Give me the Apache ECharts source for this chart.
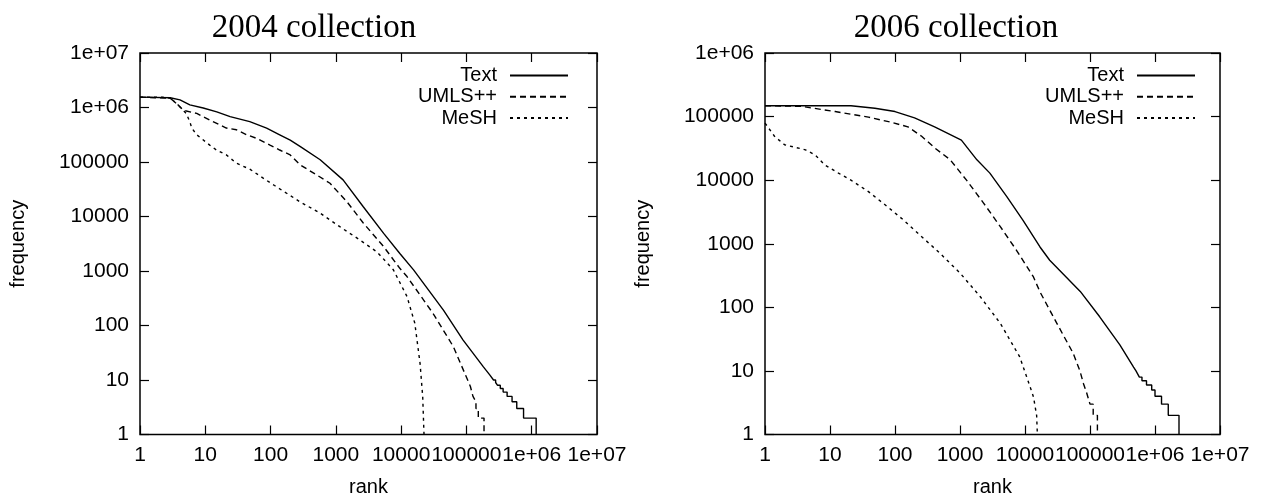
<!DOCTYPE html>
<html>
<head>
<meta charset="utf-8">
<script src="https://cdn.jsdelivr.net/npm/echarts@6/dist/echarts.min.js"></script>
<style>
  html, body { margin: 0; padding: 0; background: #fff; }
  #chart { width: 1266px; height: 495px; }
</style>
</head>
<body>
<div id="chart"></div>
<script>
// Rank/frequency distributions, [rank, frequency] pairs on log-log axes.
const panelTitles = ['2004 collection', '2006 collection'];
const seriesNames = ['Text', 'UMLS++', 'MeSH'];
const decadeLabels = ['1', '10', '100', '1000', '10000', '100000', '1e+06', '1e+07'];

const text2004 = [
  [1, 1550000], [2.9, 1510000], [4.1, 1380000], [5.8, 1120000], [9.3, 980000],
  [15, 830000], [24, 680000], [48, 550000], [87, 420000], [138, 316000],
  [200, 251000], [290, 190000], [575, 110000], [1290, 47000], [2630, 15100],
  [5400, 4900], [9550, 2090], [15500, 1050], [44700, 190], [89000, 54],
  [182000, 17.4], [229000, 12.3], [260000, 10], [280000, 10], [280000, 9],
  [300000, 9], [300000, 8], [330000, 8], [330000, 7], [365000, 7], [365000, 6],
  [420000, 6], [420000, 5], [500000, 5], [500000, 4], [590000, 4], [590000, 3],
  [750000, 3], [750000, 2], [1170000, 2], [1170000, 1]
];
const umls2004 = [
  [1, 1550000], [2.9, 1480000], [3.6, 1200000], [4.6, 890000], [7.4, 780000],
  [11.7, 590000], [21, 420000], [30, 390000], [43, 316000], [62, 270000],
  [98, 204000], [138, 166000], [200, 135000], [282, 89000], [513, 57500],
  [813, 40700], [1480, 18600], [2630, 7600], [5370, 2820], [9550, 1120],
  [12300, 790], [30900, 166], [63000, 41], [115000, 7.6], [126000, 5],
  [140000, 4], [140000, 3], [152000, 3], [152000, 2], [186000, 2], [186000, 1]
];
const mesh2004 = [
  [1, 1550000], [2.2, 1550000], [2.9, 1480000], [3.8, 1120000], [5.1, 780000],
  [5.8, 550000], [6.2, 420000], [7.4, 316000], [11.7, 204000], [14.8, 166000],
  [21, 135000], [30, 95000], [48, 74000], [78, 50000], [115, 37000],
  [282, 18600], [575, 11500], [1150, 6500], [2340, 3700], [4270, 2240],
  [7600, 1050], [12300, 340], [16200, 110], [19500, 20], [21400, 4.9], [22400, 1]
];

const text2006 = [
  [1, 148000], [21, 148000], [49, 135000], [100, 120000], [200, 95500],
  [407, 69000], [1050, 42700], [1820, 20900], [2880, 12900], [5250, 5500],
  [9330, 2340], [17000, 890], [24000, 550], [70800, 178], [141000, 71],
  [288000, 25.7], [468000, 11.5], [510000, 10], [540000, 10], [540000, 9],
  [575000, 9], [575000, 8], [630000, 8], [630000, 7], [740000, 7], [740000, 6],
  [890000, 6], [890000, 5], [1000000, 5], [1000000, 4], [1260000, 4],
  [1260000, 3], [1600000, 3], [1600000, 2], [2340000, 2], [2340000, 1]
];
const umls2006 = [
  [1, 148000], [3.6, 145000], [12, 120000], [39, 98000], [89, 81000],
  [158, 69000], [257, 49000], [417, 31600], [708, 20900], [1260, 10000],
  [2290, 4400], [4170, 1860], [7400, 790], [13500, 300], [17000, 175],
  [30900, 56], [55000, 19], [70000, 10], [79400, 6.3], [89000, 4.5], [100000, 3],
  [112000, 3], [112000, 2], [130000, 2], [130000, 1]
];
const mesh2006 = [
  [1, 79000], [1.4, 49000], [2.0, 36000], [4.2, 30000], [5.9, 25000],
  [8.3, 17400], [13.5, 12900], [21, 10000], [39, 6600], [71, 4070],
  [126, 2510], [240, 1380], [490, 710], [1000, 347], [2040, 148],
  [4170, 56], [8300, 16.6], [12000, 5.6], [13500, 3.9], [15100, 2], [15500, 1]
];

const panels = [
  { series: [text2004, umls2004, mesh2004], yMax: 1e7 },
  { series: [text2006, umls2006, mesh2006], yMax: 1e6 }
];

const INK = '#000';
const SANS = 'Liberation Sans, Arial, Helvetica, sans-serif';
const lineTypes = ['solid', [6, 4], [3, 4]];

const gridBoxes = [
  { left: 140, top: 53, width: 457, height: 381.5 },
  { left: 765, top: 53, width: 455, height: 381.5 }
];
const titlePos = [309, 951];
const legendRight = [697, 70];

function decadeLabel(v) {
  const e = Math.round(Math.log10(v));
  return decadeLabels[e] || '';
}

function baseAxis(gridIndex, max, position, withLabels) {
  return {
    type: 'log',
    logBase: 10,
    gridIndex: gridIndex,
    position: position,
    min: 1,
    max: max,
    splitNumber: Math.round(Math.log10(max)),
    axisLine: { show: false },
    splitLine: { show: false },
    minorTick: { show: false },
    axisTick: { show: true, inside: true, length: 9, lineStyle: { color: INK, width: 1.2 } },
    axisLabel: withLabels ? {
      show: true, color: INK, fontFamily: SANS, fontSize: 21,
      formatter: decadeLabel, showMinLabel: true, showMaxLabel: true
    } : { show: false }
  };
}

const grid = [], xAxis = [], yAxis = [], series = [], title = [], legend = [];

panels.forEach((p, i) => {
  grid.push(Object.assign({
    show: true, borderColor: INK, borderWidth: 1.5, backgroundColor: 'transparent',
    containLabel: false, outerBoundsMode: 'none'
  }, gridBoxes[i]));

  const xb = baseAxis(i, 1e7, 'bottom', true);
  xb.axisLabel.margin = 10;
  xb.name = 'rank';
  xb.nameLocation = 'middle';
  xb.nameGap = 43;
  xb.nameTextStyle = { color: INK, fontFamily: SANS, fontSize: 20 };
  xAxis.push(xb);
  xAxis.push(baseAxis(i, 1e7, 'top', false));

  const yl = baseAxis(i, p.yMax, 'left', true);
  yl.axisLabel.margin = 11;
  yl.name = 'frequency';
  yl.nameLocation = 'middle';
  yl.nameGap = 112;
  yl.nameTextStyle = { color: INK, fontFamily: SANS, fontSize: 20 };
  yAxis.push(yl);
  yAxis.push(baseAxis(i, p.yMax, 'right', false));

  p.series.forEach((data, k) => {
    series.push({
      name: seriesNames[k],
      type: 'line',
      xAxisIndex: i * 2,
      yAxisIndex: i * 2,
      data: data,
      symbol: 'none',
      showSymbol: false,
      smooth: false,
      silent: true,
      lineStyle: { color: INK, width: 1.4, type: lineTypes[k] },
      itemStyle: { color: INK }
    });
  });

  title.push({
    text: panelTitles[i],
    left: titlePos[i],
    top: 7,
    textAlign: 'center',
    textStyle: { fontFamily: 'Liberation Serif, Times New Roman, serif', fontWeight: 'normal', fontSize: 33, color: INK }
  });

  legend.push({
    show: true,
    orient: 'vertical',
    align: 'right',
    right: legendRight[i],
    top: 65.5,
    padding: 0,
    itemWidth: 58,
    itemHeight: 12,
    itemGap: 1.3,
    selectedMode: false,
    itemStyle: { color: 'transparent', borderWidth: 0, opacity: 0 },
    data: seriesNames.map(n => ({ name: n })),
    textStyle: { color: INK, fontFamily: SANS, fontSize: 20, lineHeight: 20, padding: [0, 8, 0, 0] }
  });
});

const chart = echarts.init(document.getElementById('chart'), null, { renderer: 'canvas' });
chart.setOption({
  backgroundColor: '#fff',
  animation: false,
  title: title,
  legend: legend,
  grid: grid,
  xAxis: xAxis,
  yAxis: yAxis,
  series: series
});
</script>
</body>
</html>
